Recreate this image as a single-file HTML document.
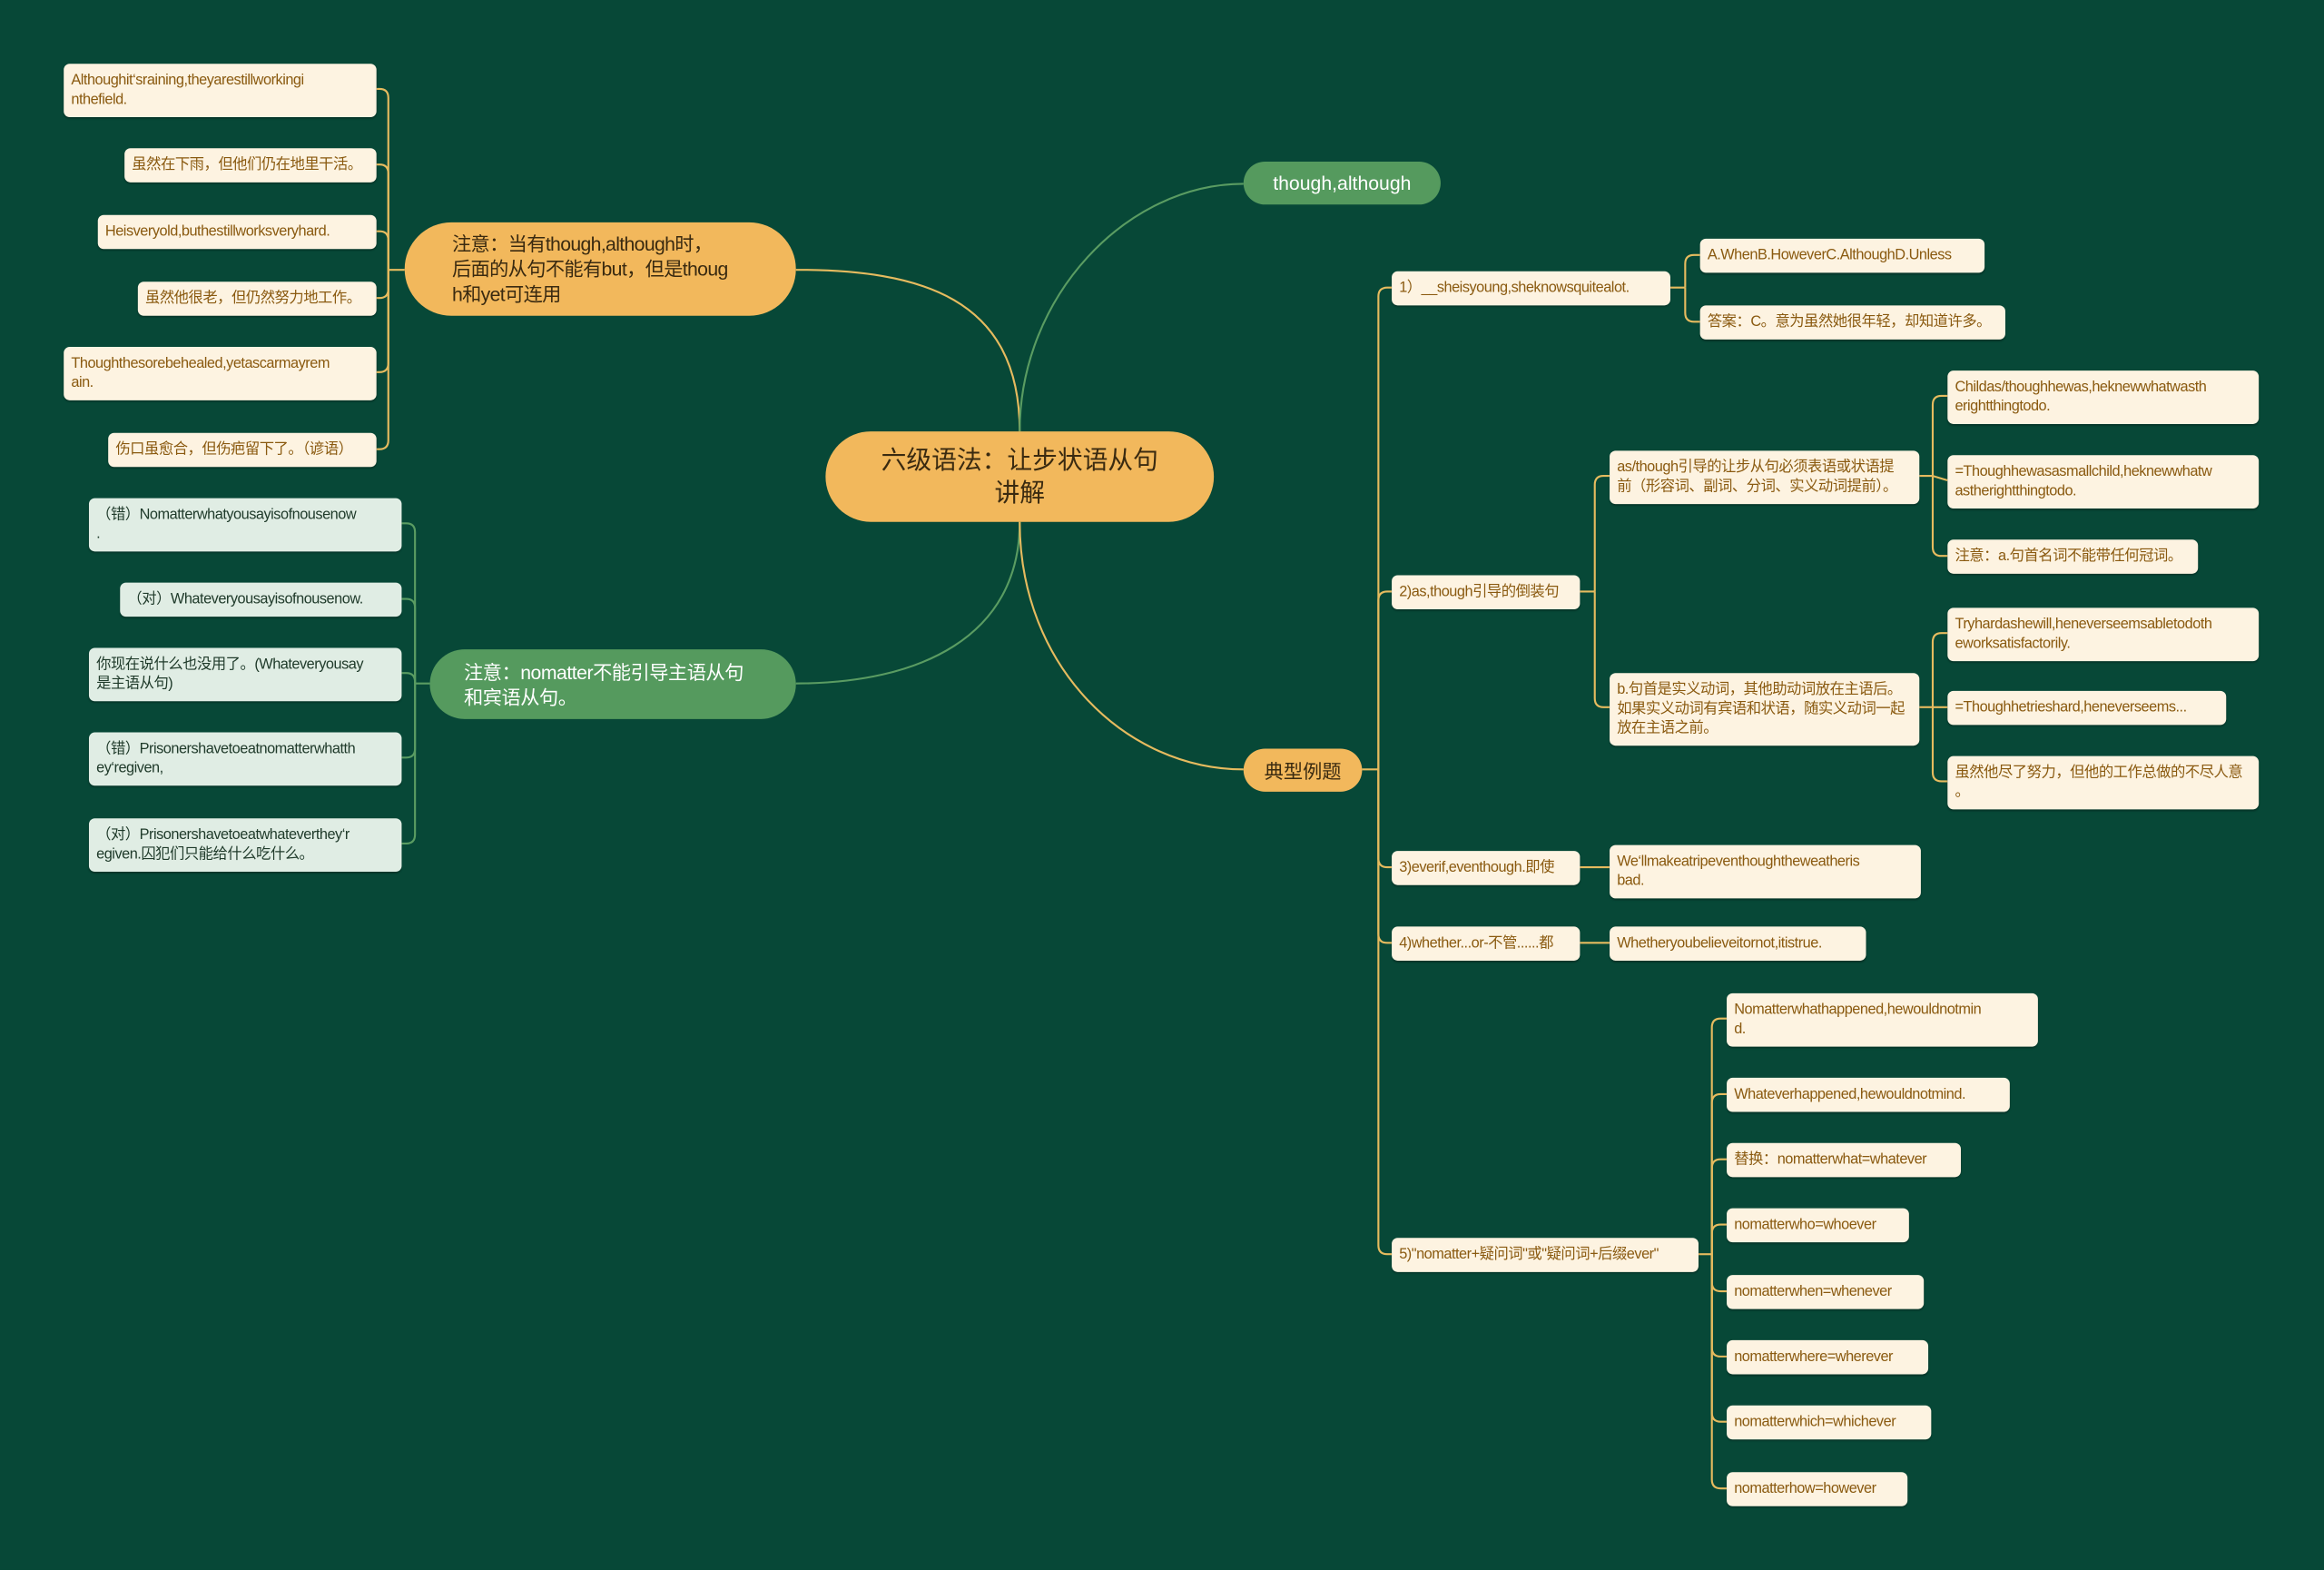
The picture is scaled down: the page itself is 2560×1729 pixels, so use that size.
<!DOCTYPE html>
<html><head><meta charset="utf-8">
<style>
html,body{margin:0;padding:0;background:#074837;}
#wrap{width:1568px;height:1059px;position:relative;transform:scale(1.63265);transform-origin:0 0;overflow:hidden;background:#074837;font-family:"Liberation Sans","Noto Sans CJK SC",sans-serif;}
.n{position:absolute;box-sizing:border-box;border-radius:4px;font-size:10px;line-height:13px;padding:5px 5px;white-space:nowrap;overflow:hidden;color:#8a5a10;background:#fdf3e1;box-shadow:0 1px 1px rgba(0,0,0,.25);letter-spacing:-0.3px}
.g{background:#e0ede4;color:#1f3a2a}
.big{position:absolute;box-sizing:border-box;display:flex;align-items:center;border-radius:32px;white-space:nowrap}
svg{position:absolute;left:0;top:0}
</style></head><body>
<div id="wrap">
<svg id="s" width="1568" height="1059" fill="none" stroke-width="1.3"></svg>

<div class="big" style="left:557px;top:291px;width:262px;height:61px;background:#f2b85c;color:#3a2a10;font-size:17px;line-height:22px;justify-content:center;text-align:center">六级语法：让步状语从句<br>讲解</div>

<div class="big" style="left:273px;top:150px;width:264px;height:63px;background:#f2b85c;color:#3a2a10;font-size:13px;line-height:17px;padding:0 0 0 32px;letter-spacing:-0.4px">注意：当有though,although时，<br>后面的从句不能有but，但是thoug<br>h和yet可连用</div>

<div class="big" style="left:290px;top:438px;width:247px;height:47px;background:#559a5e;color:#fff;font-size:13px;line-height:17px;padding:0 0 0 23px;letter-spacing:-0.3px">注意：nomatter不能引导主语从句<br>和宾语从句。</div>

<div class="big" style="left:839px;top:109px;width:133px;height:29px;background:#559a5e;color:#fff;font-size:13px;justify-content:center">though,although</div>
<div class="big" style="left:839px;top:505px;width:80px;height:29px;background:#f2b85c;color:#3a2a10;font-size:13px;justify-content:center">典型例题</div>

<!-- left top -->
<div class="n" style="left:43px;top:43px;width:211px">Althoughit‘sraining,theyarestillworkingi<br>nthefield.</div>
<div class="n" style="left:84px;top:100px;width:170px">虽然在下雨，但他们仍在地里干活。</div>
<div class="n" style="left:66px;top:145px;width:188px">Heisveryold,buthestillworksveryhard.</div>
<div class="n" style="left:93px;top:190px;width:161px">虽然他很老，但仍然努力地工作。</div>
<div class="n" style="left:43px;top:234px;width:211px">Thoughthesorebehealed,yetascarmayrem<br>ain.</div>
<div class="n" style="left:73px;top:292px;width:181px">伤口虽愈合，但伤疤留下了。（谚语）</div>

<!-- left bottom -->
<div class="n g" style="left:60px;top:336px;width:211px">（错）Nomatterwhatyousayisofnousenow<br>.</div>
<div class="n g" style="left:81px;top:393px;width:190px">（对）Whateveryousayisofnousenow.</div>
<div class="n g" style="left:60px;top:437px;width:211px">你现在说什么也没用了。(Whateveryousay<br>是主语从句)</div>
<div class="n g" style="left:60px;top:494px;width:211px">（错）Prisonershavetoeatnomatterwhatth<br>ey‘regiven,</div>
<div class="n g" style="left:60px;top:552px;width:211px">（对）Prisonershavetoeatwhateverthey‘r<br>egiven.囚犯们只能给什么吃什么。</div>

<!-- right -->
<div class="n" style="left:939px;top:183px;width:188px">1）__sheisyoung,sheknowsquitealot.</div>
<div class="n" style="left:1147px;top:161px;width:192px">A.WhenB.HoweverC.AlthoughD.Unless</div>
<div class="n" style="left:1147px;top:206px;width:206px">答案：C。意为虽然她很年轻，却知道许多。</div>

<div class="n" style="left:939px;top:388px;width:127px">2)as,though引导的倒装句</div>
<div class="n" style="left:1086px;top:304px;width:209px">as/though引导的让步从句必须表语或状语提<br>前（形容词、副词、分词、实义动词提前）。</div>
<div class="n" style="left:1086px;top:454px;width:209px">b.句首是实义动词，其他助动词放在主语后。<br>如果实义动词有宾语和状语，随实义动词一起<br>放在主语之前。</div>
<div class="n" style="left:1314px;top:250px;width:210px">Childas/thoughhewas,heknewwhatwasth<br>erightthingtodo.</div>
<div class="n" style="left:1314px;top:307px;width:210px">=Thoughhewasasmallchild,heknewwhatw<br>astherightthingtodo.</div>
<div class="n" style="left:1314px;top:364px;width:169px">注意：a.句首名词不能带任何冠词。</div>
<div class="n" style="left:1314px;top:410px;width:210px">Tryhardashewill,heneverseemsabletodoth<br>eworksatisfactorily.</div>
<div class="n" style="left:1314px;top:466px;width:188px">=Thoughhetrieshard,heneverseems...</div>
<div class="n" style="left:1314px;top:510px;width:210px">虽然他尽了努力，但他的工作总做的不尽人意<br>。</div>

<div class="n" style="left:939px;top:574px;width:127px">3)everif,eventhough.即使</div>
<div class="n" style="left:1086px;top:570px;width:210px">We‘llmakeatripeventhoughtheweatheris<br>bad.</div>
<div class="n" style="left:939px;top:625px;width:127px">4)whether...or-不管......都</div>
<div class="n" style="left:1086px;top:625px;width:173px">Whetheryoubelieveitornot,itistrue.</div>

<div class="n" style="left:939px;top:835px;width:207px">5)"nomatter+疑问词"或"疑问词+后缀ever"</div>
<div class="n" style="left:1165px;top:670px;width:210px">Nomatterwhathappened,hewouldnotmin<br>d.</div>
<div class="n" style="left:1165px;top:727px;width:191px">Whateverhappened,hewouldnotmind.</div>
<div class="n" style="left:1165px;top:771px;width:158px">替换：nomatterwhat=whatever</div>
<div class="n" style="left:1165px;top:815px;width:123px">nomatterwho=whoever</div>
<div class="n" style="left:1165px;top:860px;width:133px">nomatterwhen=whenever</div>
<div class="n" style="left:1165px;top:904px;width:136px">nomatterwhere=wherever</div>
<div class="n" style="left:1165px;top:948px;width:138px">nomatterwhich=whichever</div>
<div class="n" style="left:1165px;top:993px;width:122px">nomatterhow=however</div>
</div>
<script>
var s=document.getElementById('s');
function P(p,c){var e=document.createElementNS('http://www.w3.org/2000/svg','path');e.setAttribute('d',p);e.setAttribute('stroke',c);s.appendChild(e);}
var O='#e6bb5f',G='#5a9c62';
P('M688,291 C688,200 620,182 537,182',O);
P('M688,352 C688,430 620,461 537,461',G);
P('M688,291 C688,200 760,124 839,124',G);
P('M688,352 C688,450 760,519 839,519',O);
function B(px,py,bx,ch,c){var r=6;P('M'+px+','+py+' H'+bx,c);ch.forEach(function(k){var cx=k[0],cy=k[1];var sgn=cy>py?1:-1;var dx=cx>bx?r:-r;if(Math.abs(cy-py)<r){P('M'+bx+','+py+' L'+cx+','+cy,c);return;}P('M'+bx+','+py+' V'+(cy-sgn*r)+' Q'+bx+','+cy+' '+(bx+dx)+','+cy+' H'+cx,c);});}
B(273,182,262,[[254,60],[254,111],[254,156],[254,201],[254,251],[254,303]],O);
B(290,461,280,[[271,353],[271,404],[271,454],[271,511],[271,569]],G);
B(919,519,930,[[939,194],[939,399],[939,585],[939,636],[939,846]],O);
B(1127,194,1137,[[1147,172],[1147,217]],O);
B(1066,399,1076,[[1086,321],[1086,477]],O);
B(1295,321,1304,[[1314,267],[1314,324],[1314,375]],O);
B(1295,477,1304,[[1314,427],[1314,477],[1314,527]],O);
B(1066,585,1086,[[1086,585]],O);
B(1066,636,1086,[[1086,636]],O);
B(1146,846,1155,[[1165,687],[1165,738],[1165,782],[1165,826],[1165,871],[1165,915],[1165,959],[1165,1004]],O);
</script>
</body></html>
